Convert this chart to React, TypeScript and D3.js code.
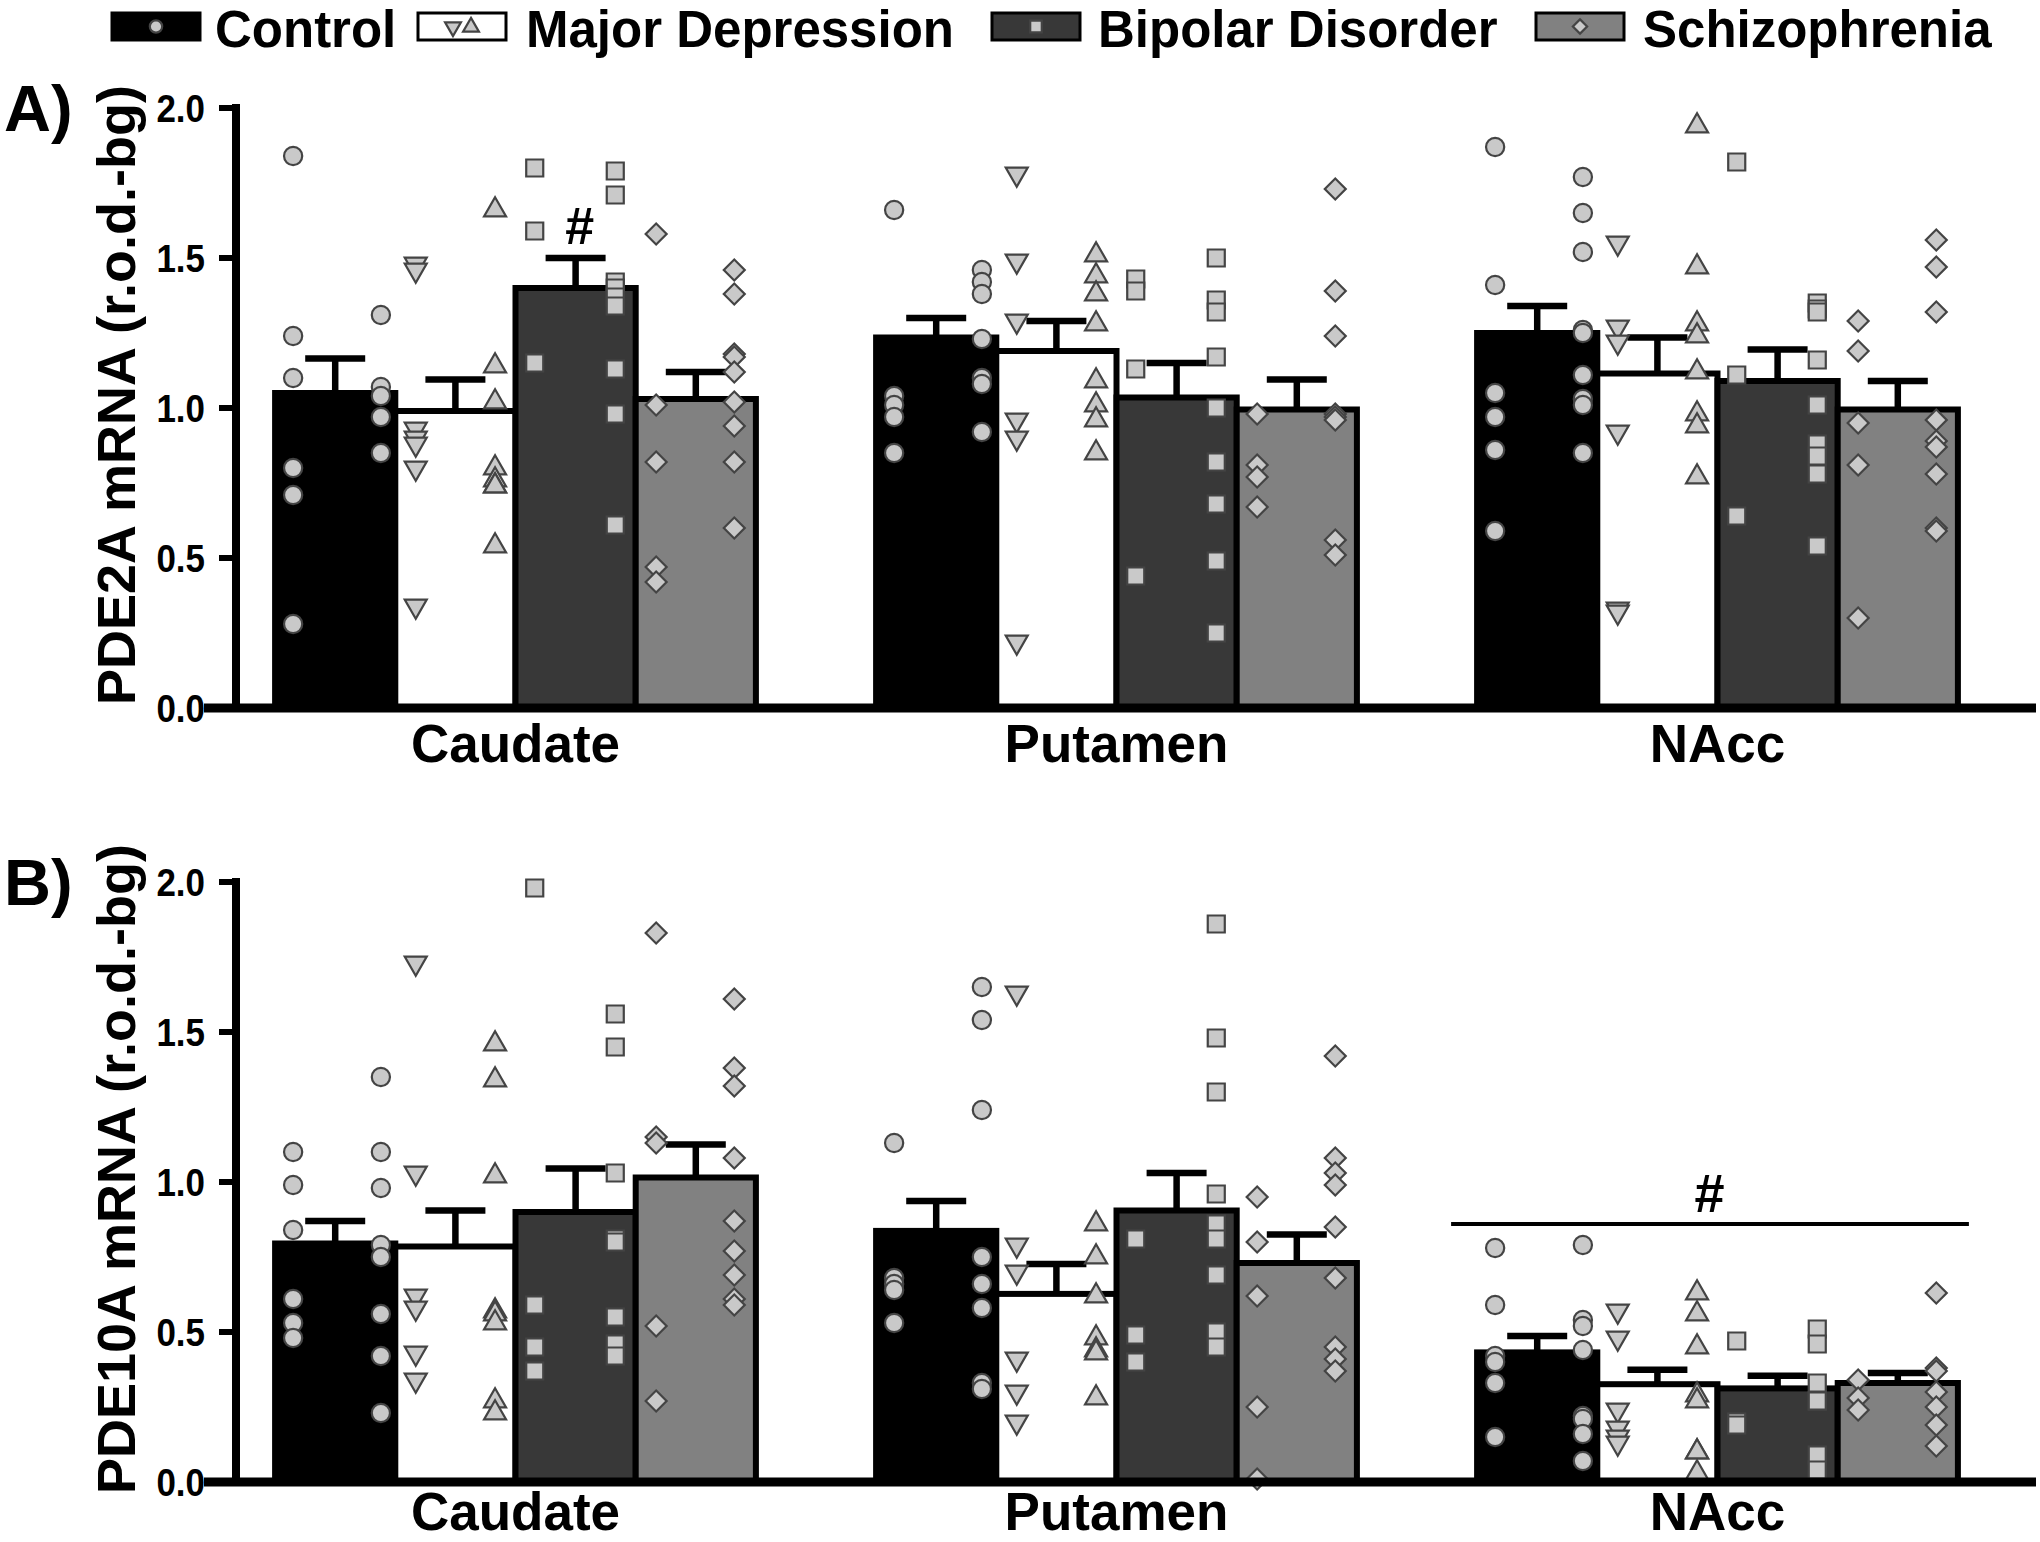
import React from 'react';
import * as d3 from 'd3';

const regions = ['Caudate', 'Putamen', 'NAcc'];
const groups = ['Control', 'Major Depression', 'Bipolar Disorder', 'Schizophrenia'];
const yTicks = [0, 0.5, 1.0, 1.5, 2.0];
const yTickLabels = ['0.0', '0.5', '1.0', '1.5', '2.0'];

// PDE2A (panel A): [region][group]
const pde2aMean = [
  [1.05, 0.99, 1.40, 1.03],
  [1.235, 1.19, 1.035, 0.995],
  [1.25, 1.115, 1.09, 0.995],
];
const pde2aSem = [
  [0.115, 0.105, 0.10, 0.09],
  [0.065, 0.10, 0.115, 0.10],
  [0.09, 0.12, 0.105, 0.095],
];
const pde2aCaudateLeft = [
  [1.84, 1.24, 1.10, 0.80, 0.71, 0.28],
  [1.48, 1.46, 0.93, 0.90, 0.88, 0.80, 0.34],
  [1.80, 1.59, 1.15],
  [1.58, 1.01, 0.82, 0.47, 0.42],
];
const pde2aCaudateRight = [
  [1.31, 1.07, 1.04, 0.97, 0.85],
  [1.66, 1.14, 1.02, 0.80, 0.76, 0.74, 0.74, 0.54],
  [1.79, 1.71, 1.42, 1.40, 1.37, 1.34, 1.13, 0.98, 0.61],
  [1.46, 1.38, 1.18, 1.17, 1.12, 1.02, 0.94, 0.82, 0.60],
];
const pde2aPutamenLeft = [
  [1.66, 1.04, 1.01, 0.97, 0.85],
  [1.78, 1.49, 1.29, 0.96, 0.90, 0.22],
  [1.43, 1.39, 1.13, 0.44],
  [0.98, 0.81, 0.77, 0.67],
];
const pde2aPutamenRight = [
  [1.46, 1.42, 1.38, 1.23, 1.10, 1.08, 0.92],
  [1.51, 1.44, 1.38, 1.28, 1.09, 1.01, 0.96, 0.85],
  [1.50, 1.36, 1.32, 1.17, 1.00, 0.82, 0.68, 0.49, 0.25],
  [1.73, 1.39, 1.24, 0.98, 0.97, 0.96, 0.56, 0.51],
];
const pde2aNAccLeft = [
  [1.87, 1.41, 1.05, 0.97, 0.86, 0.59],
  [1.55, 1.27, 1.22, 0.92, 0.33, 0.32],
  [1.82, 1.11, 0.64],
  [1.29, 1.19, 0.95, 0.81, 0.30],
];
const pde2aNAccRight = [
  [1.77, 1.65, 1.52, 1.26, 1.25, 1.11, 1.03, 1.01, 0.85],
  [1.94, 1.47, 1.28, 1.24, 1.12, 0.98, 0.94, 0.77],
  [1.35, 1.33, 1.32, 1.16, 1.01, 0.88, 0.84, 0.78, 0.54],
  [1.56, 1.47, 1.32, 0.96, 0.89, 0.87, 0.78, 0.60, 0.59],
];

// PDE10A (panel B)
const pde10aMean = [
  [0.795, 0.785, 0.90, 1.015],
  [0.837, 0.627, 0.905, 0.73],
  [0.432, 0.326, 0.312, 0.33],
];
const pde10aSem = [
  [0.075, 0.12, 0.145, 0.11],
  [0.10, 0.10, 0.125, 0.095],
  [0.055, 0.048, 0.042, 0.033],
];
const pde10aCaudateLeft = [
  [1.10, 0.99, 0.84, 0.61, 0.53, 0.48],
  [1.73, 1.03, 0.62, 0.58, 0.43, 0.34],
  [1.98, 0.59, 0.45, 0.37],
  [1.83, 1.15, 1.13, 0.52, 0.27],
];
const pde10aCaudateRight = [
  [1.35, 1.10, 0.98, 0.79, 0.75, 0.56, 0.42, 0.23],
  [1.46, 1.34, 1.02, 0.57, 0.56, 0.53, 0.27, 0.23],
  [1.56, 1.45, 1.03, 0.81, 0.80, 0.55, 0.46, 0.42],
  [1.61, 1.38, 1.32, 1.08, 0.87, 0.77, 0.69, 0.61, 0.59],
];
const pde10aPutamenLeft = [
  [1.13, 0.68, 0.66, 0.64, 0.53],
  [1.63, 0.79, 0.70, 0.41, 0.30, 0.20],
  [0.81, 0.49, 0.40],
  [0.95, 0.80, 0.62, 0.25, 0.01],
];
const pde10aPutamenRight = [
  [1.65, 1.54, 1.24, 0.75, 0.66, 0.58, 0.33, 0.31],
  [0.86, 0.75, 0.62, 0.48, 0.44, 0.43, 0.28],
  [1.86, 1.48, 1.30, 0.96, 0.86, 0.81, 0.69, 0.50, 0.45],
  [1.42, 1.08, 1.03, 0.99, 0.85, 0.68, 0.45, 0.41, 0.37],
];
const pde10aNAccLeft = [
  [0.78, 0.59, 0.42, 0.40, 0.33, 0.15],
  [0.57, 0.48, 0.24, 0.18, 0.15, 0.13],
  [0.47, 0.20, 0.19],
  [0.34, 0.28, 0.24],
];
const pde10aNAccRight = [
  [0.79, 0.54, 0.52, 0.44, 0.22, 0.21, 0.16, 0.07],
  [0.63, 0.56, 0.45, 0.29, 0.27, 0.10, 0.10, 0.03],
  [0.51, 0.46, 0.33, 0.27, 0.27, 0.09, 0.04],
  [0.63, 0.38, 0.37, 0.30, 0.25, 0.19, 0.12],
];

// significance marks: region index, group index (-1 = whole region), value
const pde2aSig = [{ region: 0, group: 2, value: 1.61 }];
const pde10aSig = [{ region: 2, group: -1, value: 0.86 }];

const W = 2040;
const H = 1542;
const FONT = "'Liberation Sans', Arial, Helvetica, sans-serif";
const barFills = ['#000000', '#ffffff', '#383838', '#818181'];
const PT_FILL = '#c9c9c9';
const PT_STROKE = '#444444';
const leftFrac = [0.15, 0.17, 0.16, 0.17];
const rightFrac = [0.88, 0.83, 0.83, 0.82];

const xGroup = d3.scaleBand<string>().domain(regions).range([215, 2018]).paddingInner(0.2).paddingOuter(0.1);
const xBar = d3.scaleBand<string>().domain(groups).range([0, xGroup.bandwidth()]);

const circlePath = d3.symbol().type(d3.symbolCircle).size(260)()!;
const squarePath = d3.symbol().type(d3.symbolSquare).size(290)()!;
const diamondPath = d3.symbol().type(d3.symbolSquare).size(220)()!;
const trianglePath = d3.symbol().type(d3.symbolTriangle).size(210)()!;

function Marker({ g, side, x, y, scale = 1 }: { g: number; side: number; x: number; y: number; scale?: number }) {
  let d = circlePath;
  let rot = 0;
  if (g === 1) {
    d = trianglePath;
    rot = side === 0 ? 180 : 0;
  } else if (g === 2) d = squarePath;
  else if (g === 3) {
    d = diamondPath;
    rot = 45;
  }
  return (
    <path
      d={d}
      transform={`translate(${x},${y}) rotate(${rot}) scale(${scale})`}
      fill={PT_FILL}
      stroke={PT_STROKE}
      strokeWidth={2.2 / scale}
    />
  );
}

type PanelProps = {
  letter: string;
  yLabel: string;
  yBottom: number;
  yTop: number;
  mean: number[][];
  sem: number[][];
  left: number[][][];
  right: number[][][];
  sig: { region: number; group: number; value: number }[];
};

function Panel({ letter, yLabel, yBottom, yTop, mean, sem, left, right, sig }: PanelProps) {
  const y = d3.scaleLinear().domain([0, 2]).range([yBottom, yTop]);
  const axisX = 236;
  const bw = xBar.bandwidth();
  const capW = 60;
  const catY = Math.min(yBottom + 54, H - 12);
  return (
    <g>
      <text x={4} y={yTop + 23} fontFamily={FONT} fontWeight="bold" fontSize={65}>
        {letter}
      </text>
      <text
        transform={`translate(135,${(yTop + yBottom) / 2 - 13}) rotate(-90)`}
        textAnchor="middle"
        fontFamily={FONT}
        fontWeight="bold"
        fontSize={54}
      >
        {yLabel}
      </text>
      {/* bars */}
      {regions.map((r, ri) =>
        groups.map((gname, gi) => {
          const x0 = xGroup(r)! + xBar(gname)!;
          return (
            <rect
              key={`b${ri}-${gi}`}
              x={x0}
              y={y(mean[ri][gi])}
              width={bw}
              height={y(0) - y(mean[ri][gi])}
              fill={barFills[gi]}
              stroke="#000"
              strokeWidth={6}
            />
          );
        })
      )}
      {/* error bars */}
      {regions.map((r, ri) =>
        groups.map((gname, gi) => {
          const cx = xGroup(r)! + xBar(gname)! + bw / 2;
          const top = y(mean[ri][gi] + sem[ri][gi]);
          return (
            <g key={`e${ri}-${gi}`} stroke="#000" strokeWidth={6.5}>
              <line x1={cx} x2={cx} y1={y(mean[ri][gi])} y2={top} />
              <line x1={cx - capW / 2} x2={cx + capW / 2} y1={top} y2={top} />
            </g>
          );
        })
      )}
      {/* points */}
      {regions.map((r, ri) =>
        groups.map((gname, gi) => {
          const x0 = xGroup(r)! + xBar(gname)!;
          return (
            <g key={`p${ri}-${gi}`}>
              {left[ri][gi].map((v, k) => (
                <Marker key={`l${k}`} g={gi} side={0} x={x0 + bw * leftFrac[gi]} y={y(v)} />
              ))}
              {right[ri][gi].map((v, k) => (
                <Marker key={`r${k}`} g={gi} side={1} x={x0 + bw * rightFrac[gi]} y={y(v)} />
              ))}
            </g>
          );
        })
      )}
      {/* axes */}
      <line x1={axisX} x2={axisX} y1={yTop - 4} y2={yBottom + 4} stroke="#000" strokeWidth={8} />
      <line x1={204} x2={2036} y1={yBottom} y2={yBottom} stroke="#000" strokeWidth={9} />
      {yTicks.map((t, i) => (
        <g key={`t${i}`}>
          <line x1={219} x2={axisX} y1={y(t)} y2={y(t)} stroke="#000" strokeWidth={6} />
          <text
            transform={`translate(205,${y(t)}) scale(0.92,1)`}
            dy="0.36em"
            textAnchor="end"
            fontFamily={FONT}
            fontWeight="bold"
            fontSize={38}
          >
            {yTickLabels[i]}
          </text>
        </g>
      ))}
      {regions.map((r) => (
        <text
          key={r}
          x={xGroup(r)! + xGroup.bandwidth() / 2}
          y={catY}
          textAnchor="middle"
          fontFamily={FONT}
          fontWeight="bold"
          fontSize={53}
        >
          {r}
        </text>
      ))}
      {/* significance */}
      {sig.map((s, i) => {
        if (s.group >= 0) {
          const cx = xGroup(regions[s.region])! + xBar(groups[s.group])! + bw / 2;
          return (
            <text
              key={`s${i}`}
              x={cx + 4}
              y={y(s.value)}
              dy="0.36em"
              textAnchor="middle"
              fontFamily={FONT}
              fontWeight="bold"
              fontSize={52}
            >
              #
            </text>
          );
        }
        const gx = xGroup(regions[s.region])!;
        const gx1 = gx + xGroup.bandwidth();
        return (
          <g key={`s${i}`}>
            <line x1={gx - 26} x2={gx1 + 11} y1={y(s.value)} y2={y(s.value)} stroke="#000" strokeWidth={4} />
            <text
              x={(gx + gx1) / 2 - 8}
              y={y(s.value) - 12}
              textAnchor="middle"
              fontFamily={FONT}
              fontWeight="bold"
              fontSize={54}
            >
              #
            </text>
          </g>
        );
      })}
    </g>
  );
}

const legendSwatchX = [112, 418, 992, 1536];
const legendTextX = [215, 526, 1098, 1643];

function Legend() {
  return (
    <g>
      {groups.map((gname, gi) => {
        const sx = legendSwatchX[gi];
        const sw = 88;
        const cx = sx + sw / 2;
        return (
          <g key={gname}>
            <rect x={sx} y={13} width={sw} height={27} fill={barFills[gi]} stroke="#000" strokeWidth={3} />
            {gi === 1 ? (
              <>
                <Marker g={1} side={0} x={cx - 9} y={27} scale={0.72} />
                <Marker g={1} side={1} x={cx + 9} y={27} scale={0.72} />
              </>
            ) : (
              <Marker g={gi} side={0} x={cx} y={26.5} scale={0.68} />
            )}
            <text x={legendTextX[gi]} y={47} fontFamily={FONT} fontWeight="bold" fontSize={51}>
              {gname}
            </text>
          </g>
        );
      })}
    </g>
  );
}

export default function App() {
  return (
    <svg
      width={W}
      height={H}
      viewBox={`0 0 ${W} ${H}`}
      style={{ position: 'absolute', left: 0, top: 0, background: '#fff' }}
    >
      <rect x={0} y={0} width={W} height={H} fill="#fff" />
      <Legend />
      <Panel
        letter="A)"
        yLabel="PDE2A mRNA (r.o.d.-bg)"
        yBottom={708}
        yTop={108}
        mean={pde2aMean}
        sem={pde2aSem}
        left={[pde2aCaudateLeft, pde2aPutamenLeft, pde2aNAccLeft]}
        right={[pde2aCaudateRight, pde2aPutamenRight, pde2aNAccRight]}
        sig={pde2aSig}
      />
      <Panel
        letter="B)"
        yLabel="PDE10A mRNA (r.o.d.-bg)"
        yBottom={1482}
        yTop={882}
        mean={pde10aMean}
        sem={pde10aSem}
        left={[pde10aCaudateLeft, pde10aPutamenLeft, pde10aNAccLeft]}
        right={[pde10aCaudateRight, pde10aPutamenRight, pde10aNAccRight]}
        sig={pde10aSig}
      />
    </svg>
  );
}
